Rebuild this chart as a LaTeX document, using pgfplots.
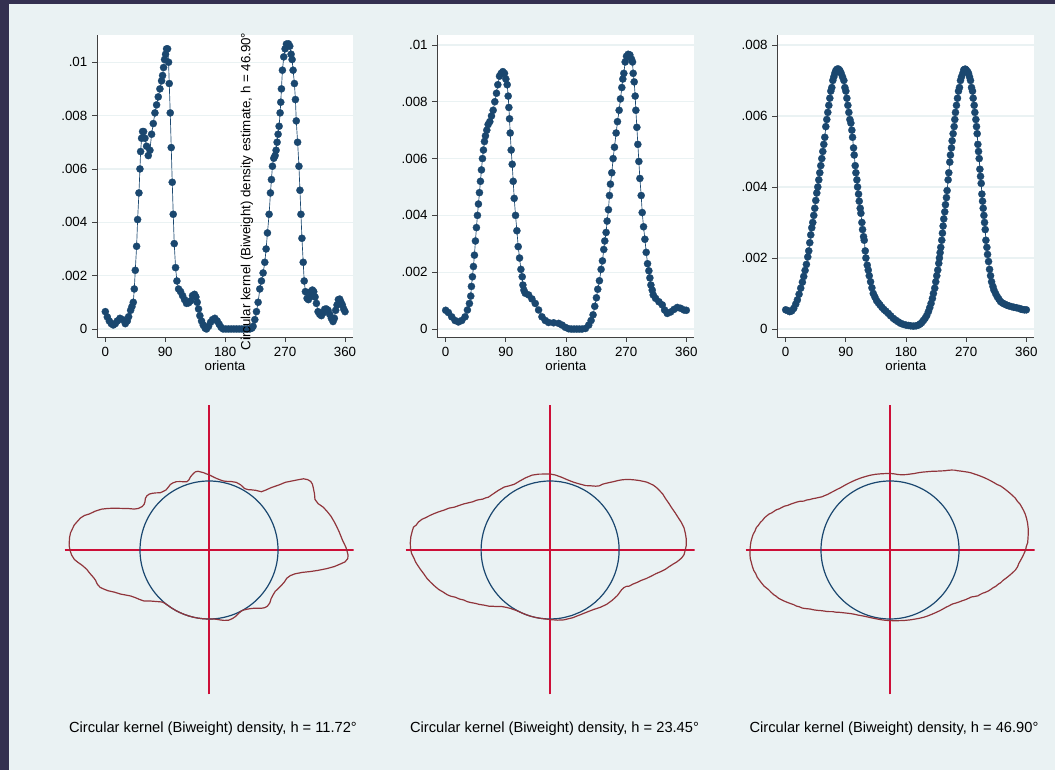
\documentclass[border=0pt]{standalone}
\usepackage{fontspec}
\setmainfont{Liberation Sans}
\usepackage{pgfplots}
\pgfplotsset{compat=1.18}
\usepackage{pgfplotstable}

\definecolor{stnavy}{RGB}{26,71,111}
\definecolor{stmaroon}{RGB}{144,53,59}
\definecolor{stcross}{RGB}{205,15,55}
\definecolor{bgc}{RGB}{234,242,243}
\definecolor{framec}{RGB}{52,48,80}

% density estimates, a = orientation (degrees), d = density
% h = 11.72
\pgfplotstableread{
a d
0 0.00065
3 0.00045
6 0.0003
9 0.0002
12 0.00015
15 0.0002
18 0.0003
22 0.0004
26 0.00035
30 0.0002
33 0.0003
35 0.00046
38 0.0007
40 0.00084
42 0.001
43.5 0.0015
45 0.0022
47 0.0031
48.5 0.0041
50.5 0.0051
52 0.006
53 0.00665
54.5 0.00715
56 0.0074
57.5 0.0074
59.5 0.00715
62 0.00685
64.5 0.0065
67 0.0067
69.5 0.0073
72 0.0077
74.5 0.0081
77 0.0084
79.5 0.0087
82 0.009
84.5 0.0093
86 0.0095
87.5 0.0098
89 0.0101
90.5 0.0103
92 0.0105
93.5 0.0105
95 0.0100
96 0.0092
97.5 0.0081
99 0.0068
100.5 0.0055
102 0.0043
103.5 0.0032
105.5 0.0023
107.5 0.0018
110 0.0015
113 0.0014
116 0.00125
119 0.0011
122 0.00096
125 0.00098
128 0.00105
131 0.00125
134 0.0013
136 0.0012
138 0.001
140 0.00075
142 0.0005
144.5 0.0003
147 0.00015
150 0.00003
152 0
155 0.0001
158 0.00025
161 0.00035
164.5 0.0004
168 0.0003
171 0.00018
174 0.00006
177 0
181 0
185 0
189 0
193 0
197 0
201 0
205 0
209 0
213 0
217 0
220 0.00003
222 0.0001
224.5 0.00035
227 0.00065
229.5 0.001
232 0.0015
234.5 0.0018
237 0.0021
239.5 0.0025
241.5 0.003
243.5 0.0036
246 0.0043
248 0.0051
249.5 0.0056
251 0.0061
253 0.0064
255 0.0065
256.5 0.0067
258 0.007
259.5 0.0073
261 0.0076
262.5 0.0081
263.5 0.0085
264.5 0.009
266 0.0097
268 0.0102
270 0.0105
272 0.01068
275 0.01069
277 0.0106
279 0.0103
280.5 0.0101
282 0.0097
284 0.0092
285.5 0.0086
286.8 0.0078
288.8 0.007
290.8 0.0061
292.3 0.0052
293.8 0.0043
295.3 0.0034
297.2 0.0025
298.7 0.0018
300.5 0.0014
303 0.00115
305 0.0011
307 0.0012
309 0.0014
311 0.00146
313 0.0014
315 0.0012
317 0.00096
319.5 0.00065
322 0.00055
324.5 0.0005
327 0.0006
329.5 0.00074
332 0.00075
334.5 0.0007
337 0.00055
339.5 0.0004
342 0.00028
344 0.0004
346 0.0007
348 0.0009
350 0.0011
352 0.00112
354 0.001
356 0.0009
358 0.00075
360 0.00065
}\kdA

% h = 23.45
\pgfplotstableread{
a d
0 0.00066
4 0.00058
9 0.00043
14 0.0003
19 0.00025
24 0.0003
29 0.00043
32.5 0.00067
35.5 0.0009
37.5 0.00116
38.5 0.0015
40 0.00184
41.5 0.0022
43 0.0026
44.5 0.0031
46 0.00357
47.5 0.004
49 0.0044
50.5 0.0048
52 0.0052
53.5 0.0056
55 0.006
56.5 0.0063
58 0.0066
59.5 0.0068
61.5 0.007
63.5 0.0072
66 0.0073
68.5 0.0075
71 0.0077
73.5 0.008
76 0.0083
78 0.0086
80.5 0.0089
83 0.009
85.5 0.00906
88 0.009
90 0.0088
92 0.0086
93.5 0.0082
94.5 0.0078
95.5 0.0074
96.5 0.0069
98 0.0063
99.5 0.0058
101 0.0052
102.5 0.0046
104.5 0.004
106.5 0.00346
108.5 0.0029
110.5 0.0025
112.5 0.0021
114.5 0.00184
115.5 0.00155
117 0.00137
119 0.00126
124 0.0012
129 0.00106
134 0.0009
139 0.00067
144 0.00043
149 0.0003
154 0.00023
161.5 0.00022
169 0.0002
174 0.00014
179 0.00006
184 0.00001
188 0
192 0
196 0
200 0
204 0
209 0.00002
214 0.00014
217.5 0.0003
220.5 0.0005
223 0.0008
225.5 0.0011
227.5 0.0014
230 0.0017
232.5 0.0021
234.5 0.0024
236.5 0.0028
238 0.0031
240 0.0034
241.5 0.0038
243.5 0.0042
245 0.0047
246.5 0.0051
248.5 0.0055
250.5 0.006
252.5 0.0064
255 0.0069
257 0.0073
259.5 0.0077
261.5 0.0081
263.5 0.0085
265 0.0088
266.5 0.009
268.5 0.0094
270.5 0.0096
273 0.00967
275.5 0.00965
278 0.0095
279.5 0.0094
280.5 0.009
282 0.0087
283.5 0.0082
284.5 0.0077
286 0.0071
287.5 0.0065
289 0.0059
290.5 0.0053
292.5 0.0047
294 0.0041
296 0.0036
298 0.00316
300 0.0027
302 0.0023
304 0.00205
305.5 0.0018
307 0.00155
309 0.00137
310.5 0.0012
314 0.00108
319 0.00096
324 0.00085
327.5 0.00067
331.5 0.00055
336.5 0.0006
341.5 0.00069
346.5 0.00076
351.5 0.00073
356.5 0.00067
360 0.00066
}\kdB

% h = 46.90
\pgfplotstableread{
a d
0 0.00054
3 0.00052
6 0.00049
9 0.00051
12 0.00058
15 0.0007
17.5 0.00082
20 0.00098
22.5 0.00115
25 0.00132
27 0.00148
29 0.00165
31 0.00182
33 0.00203
34.5 0.0022
36 0.00243
37.5 0.00265
39 0.00285
40.5 0.003
42 0.0032
43.5 0.0034
45 0.00362
46.5 0.00383
48 0.004
49.5 0.0042
51 0.0044
52.5 0.0046
54 0.0048
55.5 0.005
57 0.0052
58.5 0.0054
60 0.0057
61.5 0.0059
63 0.0061
64.5 0.0063
66 0.0065
67.5 0.0067
69 0.0068
70.5 0.007
72 0.0071
73.5 0.0072
75 0.00728
77 0.00732
79 0.00732
81 0.00728
83 0.0072
85 0.0071
87 0.007
88.5 0.0068
90 0.0067
91.5 0.0065
93 0.0063
94.5 0.0061
96 0.0059
97.5 0.0058
99 0.0056
100 0.0054
101.5 0.0051
102.5 0.0049
104 0.0046
105 0.0044
106.5 0.0042
107.5 0.004
109 0.0038
110 0.0036
111.5 0.0034
112.5 0.00326
114 0.003
115 0.0028
116.5 0.0026
117.5 0.0025
119 0.0022
120 0.002
122 0.0018
123.5 0.00166
125 0.0015
127 0.00133
129 0.00116
131 0.001
133.5 0.0009
136 0.0008
138.5 0.00074
141 0.00068
144 0.00061
147 0.00055
150 0.0005
153.5 0.00044
157 0.00037
161 0.0003
164.5 0.00025
168.5 0.0002
172 0.00016
176 0.00013
180 0.00011
183.5 0.0001
187 0.00009
191 0.00008
195 0.00009
198.5 0.00011
201 0.00014
203.5 0.00018
206 0.00024
208.5 0.0003
211 0.00038
213.5 0.00049
215.5 0.0006
217.5 0.00072
219.5 0.00086
221 0.001
223 0.00115
224.5 0.00133
226 0.0015
227.5 0.00166
229 0.00185
230 0.002
231 0.00215
232 0.0023
233.5 0.0025
234.5 0.0027
235.5 0.0029
236.5 0.0031
238 0.0033
239 0.0035
240.5 0.0037
241.5 0.0039
243 0.0042
244 0.0044
245.5 0.0047
246.5 0.0049
248 0.0051
249 0.0053
250.5 0.0055
252 0.0057
253 0.0059
254 0.0061
255.5 0.0063
257 0.0065
258.5 0.0067
260 0.0068
261.5 0.007
263 0.0071
265 0.0072
266.5 0.0073
268.5 0.00732
270 0.0073
272 0.00725
273.5 0.0072
275 0.0071
276.5 0.007
278 0.0068
279.5 0.0067
280.5 0.0065
282 0.0063
283 0.0061
284.5 0.0059
285.5 0.0057
286.5 0.0055
287.5 0.0052
288.5 0.005
289.5 0.0048
290.5 0.0045
291.5 0.0043
292.5 0.0041
293.5 0.0038
294.5 0.0036
295.5 0.0034
296.5 0.0032
297.5 0.003
298.5 0.0028
299.5 0.0025
301 0.0023
302 0.0021
303.5 0.0019
305 0.00168
306.5 0.0015
308 0.00133
310 0.0012
311.5 0.0011
314 0.001
316.5 0.00091
319 0.00084
321.5 0.00077
324.5 0.00073
327.5 0.0007
331 0.00067
334 0.00065
338 0.00063
341.5 0.00061
345 0.0006
349 0.00058
352 0.00056
354 0.00055
357 0.00054
360 0.00054
}\kdC

\pgfplotsset{
  dens/.style={
    scale only axis, anchor=south west,
    height=226.5pt,
    axis x line*=bottom, axis y line*=left,
    axis line style={black!75, line width=0.6pt},
    tick style={black!75, line width=0.6pt},
    tick align=outside, major tick length=3.75pt,
    xmin=-12.5, xmax=372,
    scaled y ticks=false,
    xtick={0,90,180,270,360}, xticklabels={0,90,180,270,360},
    ymajorgrids, grid style={bgc, line width=1pt},
    axis background/.style={fill=white},
    ticklabel style={font=\fontsize{10}{12}\selectfont},
    xlabel=orienta,
    xlabel style={font=\fontsize{10}{12}\selectfont, yshift=3pt},
  },
  kd/.style={stnavy, line width=0.5pt, mark=*, mark size=2.7pt,
    mark options={fill=stnavy, draw=stnavy, line width=0.2pt}},
  polar/.style={
    scale only axis, anchor=south west,
    width=216.75pt, height=216.75pt, hide axis,
    xmin=-2.094, xmax=2.094, ymin=-2.094, ymax=2.094,
  },
  crossl/.style={stcross, line width=1.1pt},
  ring/.style={stnavy, line width=0.9pt},
  dcurve/.style={stmaroon, line width=0.9pt},
}

\begin{document}
\begin{tikzpicture}
\fill[bgc] (0,0) rectangle (791.25pt,577.5pt);
\fill[framec] (0,0) rectangle (6.75pt,577.5pt);
\fill[framec] (0,574.5pt) rectangle (791.25pt,577.5pt);

% top row: density against orientation
\begin{axis}[dens, at={(72.75pt,324.75pt)}, width=192pt,
  ymin=-0.0003, ymax=0.01102,
  ytick={0,0.002,0.004,0.006,0.008,0.01},
  yticklabels={0,.002,.004,.006,.008,.01}]
\addplot[kd] table[x=a, y=d] {\kdA};
\end{axis}

\begin{axis}[dens, at={(328pt,324.75pt)}, width=192.75pt,
  ymin=-0.00028, ymax=0.01035,
  ytick={0,0.002,0.004,0.006,0.008,0.01},
  yticklabels={0,.002,.004,.006,.008,.01}]
\addplot[kd] table[x=a, y=d] {\kdB};
\end{axis}

\begin{axis}[dens, at={(583pt,324.75pt)}, width=192.75pt,
  ymin=-0.000225, ymax=0.00828,
  ytick={0,0.002,0.004,0.006,0.008},
  yticklabels={0,.002,.004,.006,.008}]
\addplot[kd] table[x=a, y=d] {\kdC};
\end{axis}

\node[rotate=90, font=\fontsize{10}{12}\selectfont, inner sep=0pt]
  at (185.25pt,433.9pt) {Circular kernel (Biweight) density estimate, h = 46.90°};

% bottom row: circular plots
\begin{axis}[polar, at={(48.375pt,56.625pt)}]
\addplot[crossl] coordinates {(-2.094,0) (2.094,0)};
\addplot[crossl] coordinates {(0,-2.094) (0,2.094)};
\addplot[ring] table[x expr={sin(\thisrow{a})}, y expr={cos(\thisrow{a})}] {\kdA};
\addplot[dcurve] table[x expr={sqrt(1+291.6*\thisrow{d})*sin(\thisrow{a})},
  y expr={sqrt(1+291.6*\thisrow{d})*cos(\thisrow{a})}] {\kdA};
\end{axis}

\begin{axis}[polar, at={(304.2pt,56.625pt)}]
\addplot[crossl] coordinates {(-2.094,0) (2.094,0)};
\addplot[crossl] coordinates {(0,-2.094) (0,2.094)};
\addplot[ring] table[x expr={sin(\thisrow{a})}, y expr={cos(\thisrow{a})}] {\kdB};
\addplot[dcurve] table[x expr={sqrt(1+322.3*\thisrow{d})*sin(\thisrow{a})},
  y expr={sqrt(1+322.3*\thisrow{d})*cos(\thisrow{a})}] {\kdB};
\end{axis}

\begin{axis}[polar, at={(559.125pt,56.625pt)}]
\addplot[crossl] coordinates {(-2.094,0) (2.094,0)};
\addplot[crossl] coordinates {(0,-2.094) (0,2.094)};
\addplot[ring] table[x expr={sin(\thisrow{a})}, y expr={cos(\thisrow{a})}] {\kdC};
\addplot[dcurve] table[x expr={sqrt(1+427*\thisrow{d})*sin(\thisrow{a})},
  y expr={sqrt(1+427*\thisrow{d})*cos(\thisrow{a})}] {\kdC};
\end{axis}

\node[font=\fontsize{11}{13}\selectfont] at (159.75pt,30.75pt) {Circular kernel (Biweight) density, h = 11.72°};
\node[font=\fontsize{11}{13}\selectfont] at (415.9pt,30.75pt) {Circular kernel (Biweight) density, h = 23.45°};
\node[font=\fontsize{11}{13}\selectfont] at (670.5pt,30.75pt) {Circular kernel (Biweight) density, h = 46.90°};
\end{tikzpicture}
\end{document}
